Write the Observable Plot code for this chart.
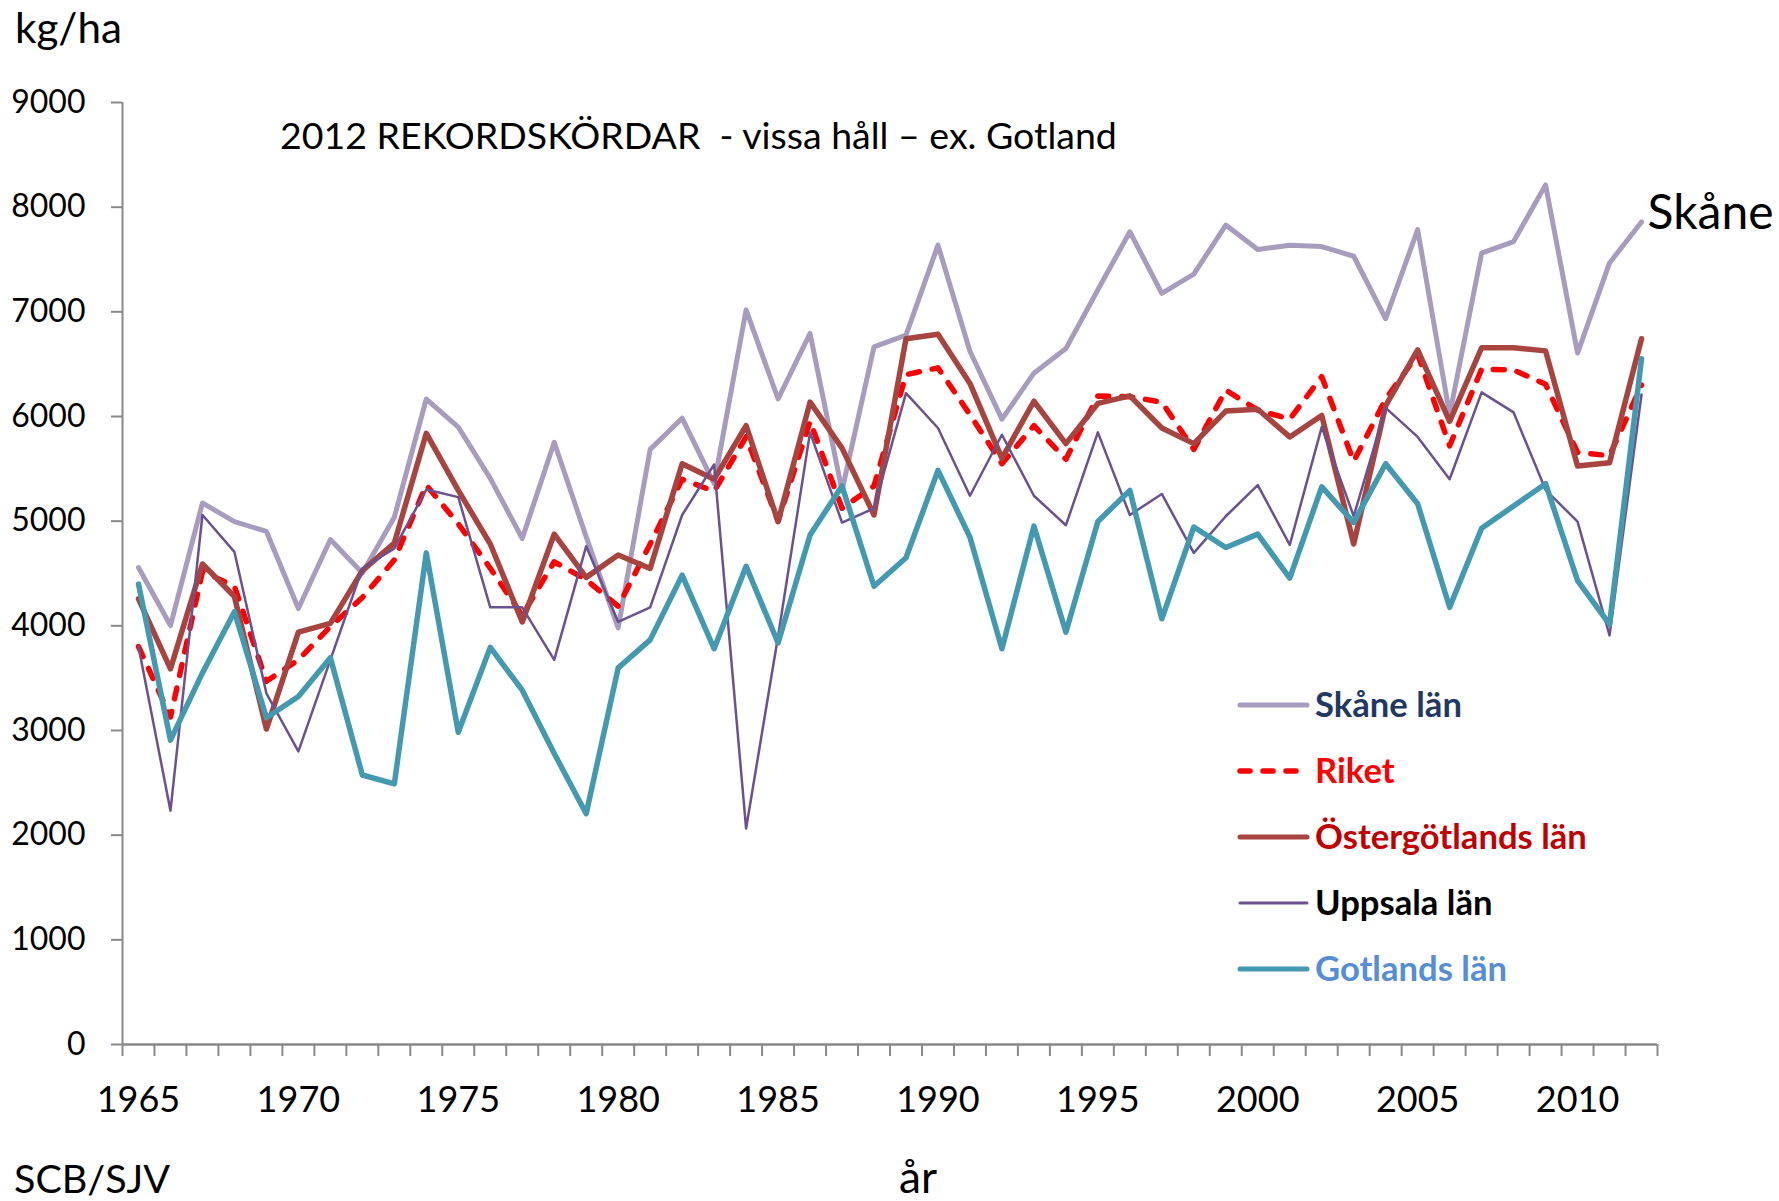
<!DOCTYPE html>
<html><head><meta charset="utf-8">
<script src="https://cdn.jsdelivr.net/npm/d3@7"></script>
<script src="https://cdn.jsdelivr.net/npm/@observablehq/plot@0.6"></script>
<style>
body{margin:0;background:#fff;}
#wrap{position:relative;width:1779px;height:1201px;overflow:hidden;font-family:Lato,sans-serif;background:#fff;}
#wrap > svg{position:absolute;left:0;top:0;}
</style></head><body><div id="wrap"></div>
<script>
const years = [1965,1966,1967,1968,1969,1970,1971,1972,1973,1974,1975,1976,1977,1978,1979,1980,1981,1982,1983,1984,1985,1986,1987,1988,1989,1990,1991,1992,1993,1994,1995,1996,1997,1998,1999,2000,2001,2002,2003,2004,2005,2006,2007,2008,2009,2010,2011,2012];
const skane = [4557,4003,5174,4995,4902,4165,4825,4505,5038,6167,5899,5409,4834, 5754,4850,3981,5686,5984,5358,7019,6167,6794,5294,6666,6777, 7637,6623,5975,6414,6649,7211,7765,7177,7360,7829,7595,7637, 7624,7531,6934,7786,6018,7560,7671,8213,6606,7467,7859];
const riket = [3802,3129,4520,4378,3470,3675,3994,4270,4630,5345,4974,4550,4100, 4612,4441,4186,4782,5400,5285,5805,5000,5954,5123,5336,6400, 6465,6018,5549,5912,5592,6197,6189,6137,5686,6252,6061,5975, 6380,5571,6167,6593,5720,6453,6444,6308,5656,5626,6300];
const ostergotland = [4258,3589,4591,4280,3014,3939,4024,4527,4791,5839,5294,4782,4037, 4876,4463,4676,4548,5549,5400,5912,4996,6137,5698,5059,6743, 6785,6316,5600,6146,5741,6125,6197,5890,5741,6052,6069,5805, 6010,4782,6103,6636,5954,6657,6657,6627,5528,5558,6743];
const uppsala = [3802,2234,5059,4706,3355,2801,3675,4548,4740,5302,5230,4177,4177, 3675,4761,4037,4177,5059,5541,2064,3900,5848,4987,5123,6223, 5890,5243,5826,5243,4961,5848,5059,5260,4697,5047,5345,4774, 5899,5047,6082,5805,5400,6231,6039,5300,4995,3909,6210];
const gotland = [4399,2908,3550,4135,3121,3325,3696,2575,2490,4697,2984,3794,3385, 2780,2205,3598,3866,4484,3781,4569,3836,4868,5336,4378,4650, 5485,4846,3781,4953,3939,4996,5294,4067,4944,4748,4876,4456, 5328,4987,5549,5166,4177,4932,5145,5358,4433,4015,6551];

const seriesNames = ["Skåne län","Riket","Östergötlands län","Uppsala län","Gotlands län"];
const yTicks = [0,1000,2000,3000,4000,5000,6000,7000,8000,9000];
const xTickLabels = [1965,1970,1975,1980,1985,1990,1995,2000,2005,2010];
const titleText = "2012 REKORDSKÖRDAR  - vissa håll – ex. Gotland";
const yUnit = "kg/ha";
const xName = "år";
const sourceText = "SCB/SJV";
const endLabel = "Skåne";

const styles = {
  "Skåne län": {values: skane, color: "#A89CBE", width: 5, dash: null, text: "#1F3864", lw: 5},
  "Riket": {values: riket, color: "#FF0000", width: 5.5, dash: "11 13", text: "#FF0000", lw: 5.5},
  "Östergötlands län": {values: ostergotland, color: "#A8443F", width: 5.5, dash: null, text: "#C00000", lw: 5},
  "Uppsala län": {values: uppsala, color: "#6A5190", width: 2.5, dash: null, text: "#000000", lw: 3},
  "Gotlands län": {values: gotland, color: "#4399B0", width: 5.5, dash: null, text: "#558ED5", lw: 5}
};

const rows = seriesNames.flatMap(name => years.map((yr, i) => ({year: yr, value: styles[name].values[i], series: name})));
const xDomain = [years[0] - 0.5, years[years.length - 1] + 0.5];
const yDomain = [yTicks[0], yTicks[yTicks.length - 1]];
const boundaries = years.map(y => y - 0.5).concat([xDomain[1]]);
const gray = "#898989";

const lineMarks = seriesNames.map(name => Plot.line(rows.filter(r => r.series === name), {
  x: "year", y: "value",
  stroke: styles[name].color,
  strokeWidth: styles[name].width,
  strokeDasharray: styles[name].dash,
  strokeLinecap: "round",
  strokeLinejoin: "round"
}));

const lastSkane = [{year: years[years.length - 1], value: skane[skane.length - 1]}];

const chart = Plot.plot({
  width: 1779,
  height: 1201,
  marginLeft: 122,
  marginRight: 122,
  marginTop: 102,
  marginBottom: 157,
  style: {fontFamily: "Lato, sans-serif", background: "transparent"},
  x: {type: "linear", domain: xDomain},
  y: {domain: yDomain},
  marks: [
    Plot.axisY({ticks: yTicks, tickSize: 11, tickPadding: 26, fontSize: 32, stroke: gray, strokeWidth: 2, color: "#000", label: null, tickFormat: d => String(d)}),
    Plot.axisX({ticks: boundaries, tickSize: 12, color: "none", stroke: gray, strokeWidth: 2, label: null}),
    Plot.axisX({ticks: xTickLabels, tickSize: 0, tickPadding: 42, fontSize: 36, color: "#000", label: null, tickFormat: d => String(d)}),
    Plot.ruleY([yDomain[0]], {stroke: gray, strokeWidth: 2.5}),
    Plot.ruleX([xDomain[0]], {y1: yDomain[0], y2: yDomain[1], stroke: gray, strokeWidth: 2}),
    ...lineMarks,
    Plot.text(lastSkane, {x: "year", y: "value", text: () => endLabel, dx: 6, dy: -8, textAnchor: "start", lineAnchor: "middle", fontSize: 48, fill: "#000"})
  ]
});
const wrap = document.getElementById("wrap");
wrap.appendChild(chart);

// overlay texts and legend
const ov = d3.select(wrap).append("svg").attr("width", 1779).attr("height", 1201)
  .style("font-family", "Lato, sans-serif");

function fit(sel, target, base) {
  sel.attr("font-size", base);
  const w = sel.node().getComputedTextLength();
  if (w > 0) sel.attr("font-size", base * target / w);
  return +sel.attr("font-size");
}

fit(ov.append("text").attr("x", 15).attr("y", 43).attr("fill", "#000").text(yUnit), 107, 40);
fit(ov.append("text").attr("x", 280).attr("y", 149).attr("fill", "#000").attr("xml:space", "preserve").style("white-space", "pre").text(titleText), 837, 38);
fit(ov.append("text").attr("x", 14).attr("y", 1193).attr("fill", "#000").text(sourceText), 156, 36);
fit(ov.append("text").attr("x", 899).attr("y", 1193).attr("fill", "#000").text(xName), 38, 36);

// legend
const legRows = [705, 771, 837, 903, 969];
const g = ov.append("g");
const probe = g.append("text").attr("font-weight", 700).text(seriesNames[2]);
const legSize = fit(probe, 272, 32);
probe.remove();
seriesNames.forEach((name, i) => {
  const s = styles[name];
  const y = legRows[i];
  g.append("line").attr("x1", 1240).attr("x2", 1307).attr("y1", y).attr("y2", y)
    .attr("stroke", s.color).attr("stroke-width", s.lw).attr("stroke-linecap", "round")
    .attr("stroke-dasharray", s.dash ? "10 13" : null);
  g.append("text").attr("x", 1315).attr("y", y + 12).attr("font-weight", 700)
    .attr("font-size", legSize).attr("fill", s.text).text(name);
});
</script></body></html>
